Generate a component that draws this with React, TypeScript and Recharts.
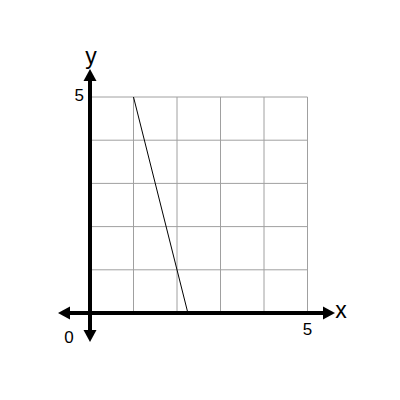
import React from "react";
import {
  LineChart,
  Line,
  XAxis,
  YAxis,
  CartesianGrid,
  ReferenceLine,
} from "recharts";

// Grid ticks on both axes
const xTicks = [0, 1, 2, 3, 4, 5];
const yTicks = [0, 1, 2, 3, 4, 5];
// Labelled tick values
const labelledX = [5];
const labelledY = [5];

// The segment drawn on the grid
const lineX = [1, 2.25];
const lineY = [5, 0];

const data = lineX.map((x, i) => ({ x, y: lineY[i] }));

const FONT = "'Liberation Sans', Arial, sans-serif";

// Axis line with an arrowhead at each end
const ArrowAxis = (p: any) => {
  const { x1, y1, x2, y2 } = p;
  const dx = x2 - x1;
  const dy = y2 - y1;
  const len = Math.hypot(dx, dy) || 1;
  const ux = dx / len;
  const uy = dy / len;
  const L = 12;
  const W = 6.5;
  const head = (tx: number, ty: number, sx: number, sy: number) => {
    const bx = tx - sx * L;
    const by = ty - sy * L;
    return `${tx},${ty} ${bx - sy * W},${by + sx * W} ${bx + sy * W},${by - sx * W}`;
  };
  return (
    <g>
      <line
        x1={x1 + ux * (L - 1)}
        y1={y1 + uy * (L - 1)}
        x2={x2 - ux * (L - 1)}
        y2={y2 - uy * (L - 1)}
        stroke="#000"
        strokeWidth={4}
      />
      <polygon points={head(x2, y2, ux, uy)} fill="#000" />
      <polygon points={head(x1, y1, -ux, -uy)} fill="#000" />
    </g>
  );
};

const renderXTick = (p: any) => {
  const { x, y, payload } = p;
  if (!labelledX.includes(payload.value)) return <g />;
  return (
    <text x={x} y={y + 14} textAnchor="middle" fontSize={17} fontFamily={FONT} fill="#000">
      {payload.value}
    </text>
  );
};

const renderYTick = (p: any) => {
  const { x, y, payload } = p;
  if (!labelledY.includes(payload.value)) return <g />;
  return (
    <text x={x + 2} y={y + 4} textAnchor="end" fontSize={17} fontFamily={FONT} fill="#000">
      {payload.value}
    </text>
  );
};

const App = () => {
  return (
    <LineChart
      width={384}
      height={384}
      data={data}
      margin={{ top: 89, right: 84.5, bottom: 49, left: 52 }}
    >
      <CartesianGrid stroke="#a0a0a0" strokeWidth={1} />
      <XAxis
        dataKey="x"
        type="number"
        domain={[0, 5]}
        ticks={xTicks}
        height={30}
        axisLine={false}
        tickLine={false}
        tick={renderXTick}
        interval={0}
      />
      <YAxis
        type="number"
        domain={[0, 5]}
        ticks={yTicks}
        width={30}
        axisLine={false}
        tickLine={false}
        tick={renderYTick}
        interval={0}
      />
      <ReferenceLine
        segment={[{ x: -0.736, y: 0 }, { x: 5.632, y: 0 }]}
        ifOverflow="visible"
        shape={ArrowAxis}
      />
      <ReferenceLine
        segment={[{ x: 0, y: 5.648 }, { x: 0, y: -0.671 }]}
        ifOverflow="visible"
        shape={ArrowAxis}
      />
      <Line
        dataKey="y"
        stroke="#000"
        strokeWidth={1}
        dot={false}
        isAnimationActive={false}
      />
      <text x={333} y={310} fontSize={23} fontFamily={FONT} fill="#000" textAnchor="middle">
        x
      </text>
      <text x={83} y={55.5} fontSize={23} fontFamily={FONT} fill="#000" textAnchor="middle">
        y
      </text>
      <text x={61} y={335} fontSize={17} fontFamily={FONT} fill="#000" textAnchor="middle">
        0
      </text>
    </LineChart>
  );
};

export default App;
